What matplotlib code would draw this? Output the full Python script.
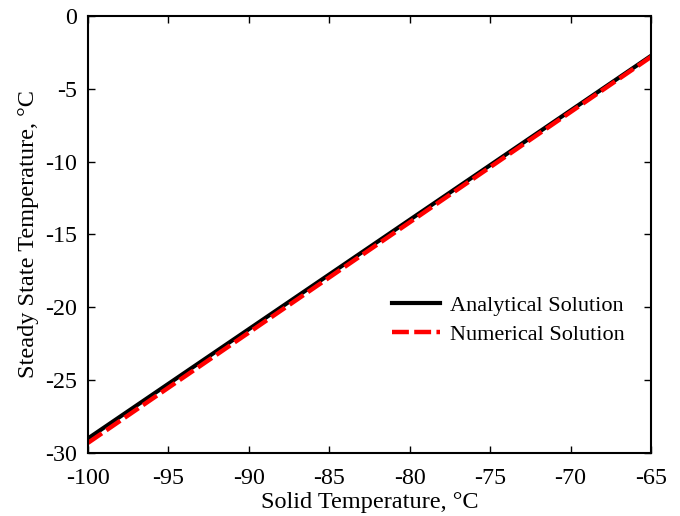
import matplotlib
matplotlib.use("Agg")
import matplotlib.pyplot as plt

plt.rcParams['font.family'] = ['Liberation Serif', 'DejaVu Serif']
plt.rcParams['mathtext.fontset'] = 'stix'

solid_temp = [-100, -65]
analytical = [-29.0, -2.75]
numerical = [-29.3, -2.82]

xticks = [-100, -95, -90, -85, -80, -75, -70, -65]
yticks = [-30, -25, -20, -15, -10, -5, 0]

fig = plt.figure(figsize=(6.8, 5.16), dpi=100)
ax = fig.add_axes([0.1294, 0.122, 0.828, 0.8475])

ax.plot(solid_temp, analytical, color='black', lw=3.0, label='Analytical Solution')
ax.plot(solid_temp, numerical, color='#ff0000', lw=3.2, dashes=(3.8, 1.2),
        label='Numerical Solution')

ax.set_xlim(-100, -65)
ax.set_ylim(-30, 0)
ax.set_xticks(xticks)
ax.set_yticks(yticks)
ax.set_xticklabels([str(t) for t in xticks])
ax.set_yticklabels([str(t) for t in yticks])
ax.tick_params(direction='in', top=True, right=True, length=5, width=1.0,
               labelsize=17.3)
ax.tick_params(axis='x', pad=11)
ax.tick_params(axis='y', pad=8)
for s in ax.spines.values():
    s.set_linewidth(1.5)

ax.set_xlabel('Solid Temperature, °C', fontsize=17.5, labelpad=2)
ax.set_ylabel('Steady State Temperature, °C', fontsize=17.5, labelpad=4)

ax.legend(loc='center left', bbox_to_anchor=(0.54, 0.304), frameon=False,
          fontsize=16, handlelength=2.16, handletextpad=0.45, labelspacing=0.4,
          borderpad=0, borderaxespad=0)

fig.savefig('out.png', dpi=100)
